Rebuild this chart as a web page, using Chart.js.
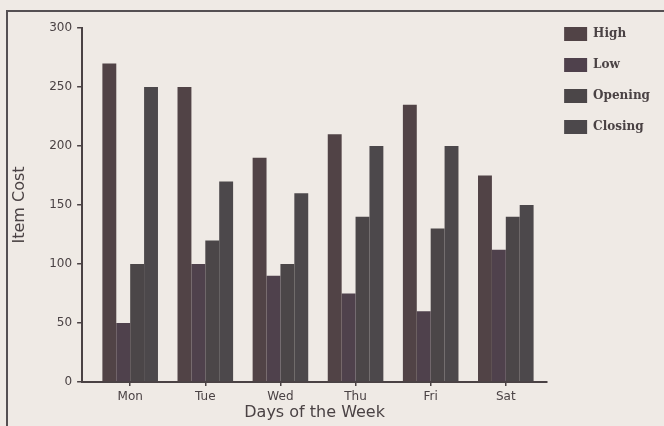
<!DOCTYPE html>
<html>
<head>
<meta charset="utf-8">
<script src="https://cdn.jsdelivr.net/npm/chart.js@4/dist/chart.umd.min.js"></script>
<style>
  html, body { margin: 0; padding: 0; background: #efeae5; }
  #wrap { position: relative; width: 664px; height: 426px; overflow: hidden; }
  #frame { position: absolute; left: 6px; top: 10px; width: 700px; height: 500px;
           border-left: 2px solid #555053; border-top: 2px solid #555053; }
  canvas { position: absolute; left: 0; top: 0; }
</style>
</head>
<body>
<div id="wrap">
  <div id="frame"></div>
  <canvas id="chart" width="664" height="426"></canvas>
</div>
<script>
// --- data ---
const DAYS = ["Mon", "Tue", "Wed", "Thu", "Fri", "Sat"];
const HIGH = [270, 250, 190, 210, 235, 175];
const LOW = [50, 100, 90, 75, 60, 112];
const OPENING = [100, 120, 100, 140, 130, 140];
const CLOSING = [250, 170, 160, 200, 200, 150];
const Y_TICKS = [0, 50, 100, 150, 200, 250, 300];

const INK = '#4a4244';

function toPoints(arr) {
    return arr.map((v, i) => ({ x: i, y: v }));
}

function makeSet(label, arr, color) {
    return {
        label: label,
        data: toPoints(arr),
        backgroundColor: color,
        borderWidth: 0,
        categoryPercentage: 0.74,
        barPercentage: 1.0
    };
}

const ctx = document.getElementById('chart').getContext('2d');

new Chart(ctx, {
    type: 'bar',
    data: {
        datasets: [
            makeSet('High', HIGH, '#514346'),
            makeSet('Low', LOW, '#4f414c'),
            makeSet('Opening', OPENING, '#4b4648'),
            makeSet('Closing', CLOSING, '#4c484b')
        ]
    },
    options: {
        responsive: false,
        animation: false,
        layout: { padding: { top: 10, right: 4, bottom: 0, left: 0 } },
        plugins: {
            tooltip: { enabled: false },
            // blank title only reserves the space above the plot
            title: { display: true, text: ' ', font: { size: 10 }, padding: { top: 0, bottom: 6 } },
            legend: {
                position: 'right',
                align: 'start',
                labels: {
                    boxWidth: 23,
                    boxHeight: 14,
                    padding: 17,
                    color: INK,
                    font: { family: 'DejaVu Serif', weight: 'bold', size: 12 }
                }
            }
        },
        scales: {
            x: {
                type: 'linear',
                min: -0.64,
                max: 5.55,
                offset: false,
                afterBuildTicks: axis => { axis.ticks = DAYS.map((d, i) => ({ value: i })); },
                grid: { display: true, offset: false, drawOnChartArea: false, tickLength: 4, color: INK, lineWidth: 1.5 },
                border: { display: true, color: INK, width: 2 },
                ticks: {
                    padding: 4,
                    maxRotation: 0,
                    autoSkip: false,
                    color: INK,
                    font: { family: 'DejaVu Sans', size: 12 },
                    callback: v => DAYS[v]
                },
                title: {
                    display: true,
                    text: 'Days of the Week',
                    color: INK,
                    font: { family: 'DejaVu Sans', size: 16, lineHeight: 0.6 },
                    padding: { top: 0, bottom: 8 }
                }
            },
            y: {
                min: 0,
                max: 300,
                afterBuildTicks: axis => { axis.ticks = Y_TICKS.map(v => ({ value: v })); },
                grid: { display: true, drawOnChartArea: false, tickLength: 5, color: INK, lineWidth: 1.5 },
                border: { display: true, color: INK, width: 2 },
                ticks: {
                    padding: 5,
                    color: INK,
                    font: { family: 'DejaVu Sans', size: 12 }
                },
                title: {
                    display: true,
                    text: 'Item Cost',
                    color: INK,
                    font: { family: 'DejaVu Sans', size: 16 },
                    padding: { top: 10, bottom: 15 }
                }
            }
        }
    }
});
</script>
</body>
</html>
